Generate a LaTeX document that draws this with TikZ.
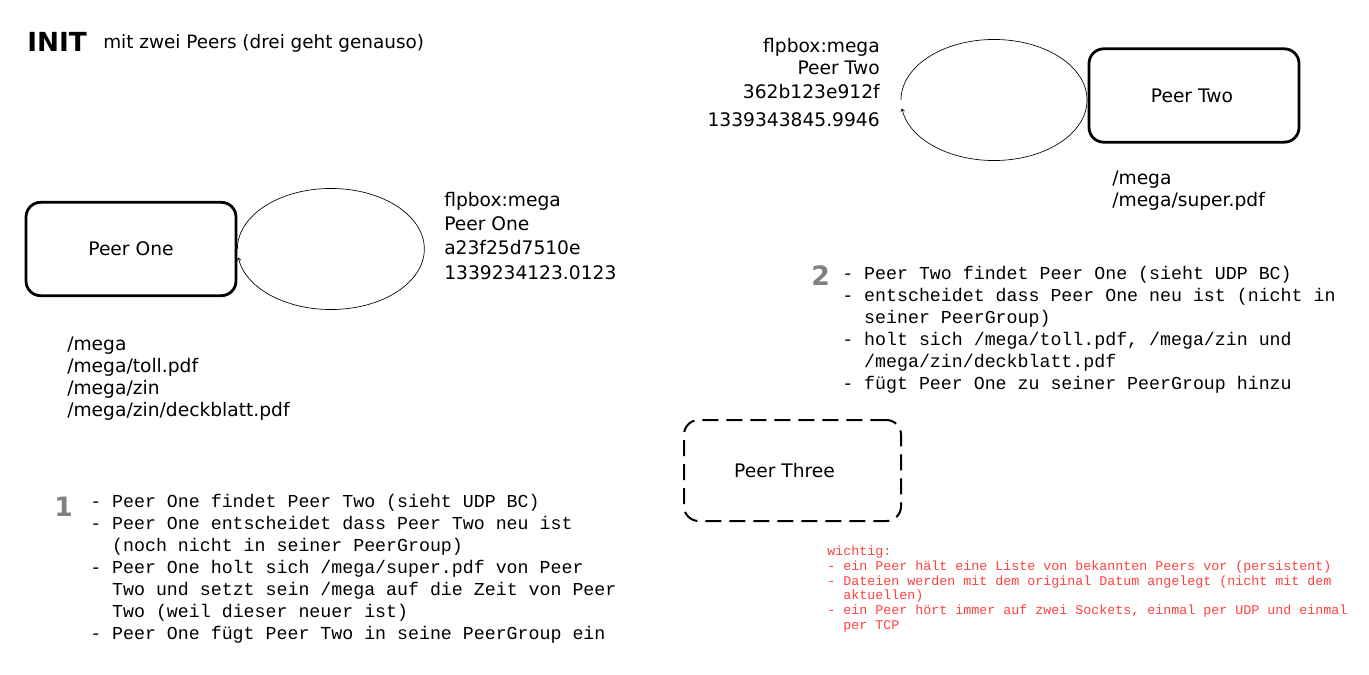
\documentclass[tikz,border=0pt]{standalone}
\usepackage{fontspec}
\setmainfont{DejaVu Sans}
\setmonofont{Liberation Mono}
\usetikzlibrary{arrows.meta}
\definecolor{notered}{RGB}{255,64,64}
\definecolor{stepgrey}{RGB}{128,128,128}
\begin{document}
\begin{tikzpicture}[x=0.75pt,y=-0.75pt,
  peer/.style={draw, line width=2.1pt, rounded corners=11pt, minimum width=157.5pt,
    minimum height=70pt, inner sep=0pt, font=\fontsize{14}{17}\selectfont},
  ghost/.style={peer, line width=1.5pt, dash pattern=on 12pt off 6pt},
  info/.style={inner sep=0pt, font=\fontsize{14}{18.2}\selectfont},
  files/.style={inner sep=0pt, align=left, font=\fontsize{14}{16.5}\selectfont},
  steps/.style={inner sep=0pt, align=left, font=\ttfamily\fontsize{13.7}{16.5}\selectfont},
  stepnum/.style={inner sep=0pt, text=stepgrey, font=\bfseries\fontsize{20}{20}\selectfont},
  note/.style={inner sep=0pt, align=left, text=notered, font=\ttfamily\fontsize{10}{11}\selectfont},
  selfloop/.style={line width=0.5pt, -{Straight Barb[length=2pt,width=3pt]}}
]
\useasboundingbox (0,0) rectangle (1369,674);

% title
\node[inner sep=0pt, anchor=west, font=\bfseries\fontsize{19.7}{20}\selectfont] (title) at (27,42) {INIT};
\node[inner sep=0pt, anchor=west, font=\fontsize{13.8}{16}\selectfont] (subtitle) at (103,43) {mit zwei Peers (drei geht genauso)};

% peers
\node[peer] (p1) at (131,249) {Peer One};
\node[peer] (p2) at (1194,95.5) {Peer Two\kern3pt};
\node[ghost, minimum width=162.75pt, minimum height=75.75pt] (p3) at (792.5,470.5) {Peer Three\kern12pt};

% self loops
\draw[selfloop] (p1.east) arc[start angle=180, end angle=-172, x radius=70.1pt, y radius=45.4pt];
\coordinate (l2) at (901,100);
\draw[selfloop] (l2) arc[start angle=180, end angle=-172, x radius=69.75pt, y radius=45.4pt];

% peer one info
\node[info, align=left, anchor=north west] (i1) at (444,192)
  {flpbox:mega\\Peer One\\a23f25d7510e\\1339234123.0123};
\node[files, anchor=north west] (f1) at (67,337)
  {/mega\\/mega/toll.pdf\\/mega/zin\\/mega/zin/deckblatt.pdf};

% peer two info
\node[info, align=right, anchor=north east, font=\fontsize{14}{16.5}\selectfont] (i2) at (880,38)
  {flpbox:mega\\[0pt]Peer Two\\[1.5pt]362b123e912f\\[4.5pt]1339343845.9946};
\node[files, anchor=north west] (f2) at (1112,171)
  {/mega\\/mega/super.pdf};

% step 1
\node[stepnum, anchor=west] (n1) at (54,507) {1};
\node[steps, anchor=north west] (s1) at (90,494)
  {- Peer One findet Peer Two (sieht UDP BC)\\
   - Peer One entscheidet dass Peer Two neu ist\\
   \phantom{- }(noch nicht in seiner PeerGroup)\\
   - Peer One holt sich /mega/super.pdf von Peer\\
   \phantom{- }Two und setzt sein /mega auf die Zeit von Peer\\
   \phantom{- }Two (weil dieser neuer ist)\\
   - Peer One fügt Peer Two in seine PeerGroup ein};

% step 2
\node[stepnum, anchor=west] (n2) at (811,276) {2};
\node[steps, anchor=north west] (s2) at (842,266)
  {- Peer Two findet Peer One (sieht UDP BC)\\
   - entscheidet dass Peer One neu ist (nicht in\\
   \phantom{- }seiner PeerGroup)\\
   - holt sich /mega/toll.pdf, /mega/zin und\\
   \phantom{- }/mega/zin/deckblatt.pdf\\
   - fügt Peer One zu seiner PeerGroup hinzu};

% note
\node[note, anchor=north west] (nt) at (827,546)
  {wichtig:\\
   - ein Peer hält eine Liste von bekannten Peers vor (persistent)\\
   - Dateien werden mit dem original Datum angelegt (nicht mit dem\\
   \phantom{- }aktuellen)\\
   - ein Peer hört immer auf zwei Sockets, einmal per UDP und einmal\\
   \phantom{- }per TCP};
\end{tikzpicture}
\end{document}
